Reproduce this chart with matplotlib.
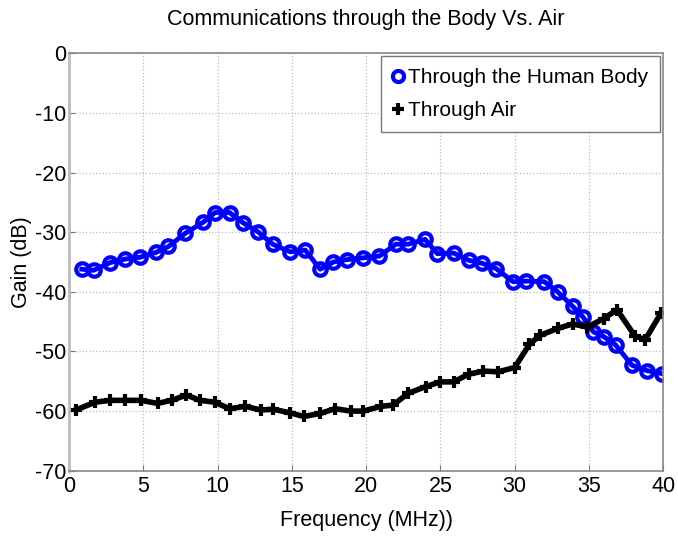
import matplotlib
matplotlib.use("Agg")
import matplotlib.pyplot as plt

plt.rcParams['font.family'] = ['Liberation Sans', 'DejaVu Sans']
plt.rcParams['axes.unicode_minus'] = False

# Ganancia a traves del cuerpo humano
freq_body = [0.85, 1.64, 2.76, 3.77, 4.78, 5.84, 6.69, 7.81, 9.04, 9.83,
             10.8, 11.7, 12.7, 13.7, 14.9, 15.9, 16.9, 17.8, 18.7, 19.8,
             20.9, 22.0, 22.85, 23.97, 24.8, 25.9, 26.9, 27.8, 28.75, 29.9,
             30.8, 32.0, 32.9, 33.9, 34.6, 35.3, 36.0, 36.8, 37.9, 38.9, 39.9]
gain_body = [-36.2, -36.4, -35.1, -34.5, -34.2, -33.4, -32.4, -30.2, -28.3, -26.7,
             -26.7, -28.4, -29.9, -32.0, -33.3, -33.0, -36.2, -35.0, -34.6, -34.3,
             -34.0, -32.0, -32.0, -31.2, -33.6, -33.5, -34.7, -35.2, -36.1, -38.3,
             -38.2, -38.3, -40.0, -42.4, -44.2, -46.7, -47.5, -48.9, -52.3, -53.2, -53.7]

# Ganancia a traves del aire
freq_air = [0.47, 1.75, 2.76, 3.77, 4.83, 5.95, 6.9, 7.9, 8.8, 9.8,
            10.8, 11.85, 12.9, 13.76, 14.9, 15.8, 16.9, 17.9, 19.0, 19.8,
            21.0, 21.8, 22.85, 24.0, 25.0, 25.9, 26.9, 27.9, 28.9, 30.0,
            31.0, 31.7, 32.95, 33.9, 34.9, 36.0, 36.9, 38.1, 38.8, 39.85]
gain_air = [-59.8, -58.5, -58.2, -58.2, -58.2, -58.7, -58.2, -57.3, -58.2, -58.5,
            -59.6, -59.2, -59.8, -59.7, -60.3, -60.9, -60.4, -59.6, -60.0, -60.0,
            -59.2, -59.0, -57.0, -55.9, -55.1, -55.1, -53.8, -53.3, -53.4, -52.7,
            -48.8, -47.3, -46.1, -45.4, -45.9, -44.5, -43.0, -47.4, -48.0, -43.6]

fig = plt.figure(figsize=(6.78, 5.38), dpi=100)
ax = fig.add_axes([0.102, 0.125, 0.876, 0.776])

ax.plot(freq_body, gain_body, color='#0000ff', linewidth=3.5, marker='o',
        markersize=9, markerfacecolor='none', markeredgewidth=3,
        label='Through the Human Body')
ax.plot(freq_air, gain_air, color='black', linewidth=4, marker='+',
        markersize=9, markeredgewidth=3, label='Through Air')

ax.set_xlim(0, 40)
ax.set_ylim(-70, 0)
ax.set_xticks(range(0, 41, 5))
ax.set_yticks(range(-70, 1, 10))
ax.grid(True, linestyle=':', color='#bbbbbb', linewidth=0.9)
ax.tick_params(labelsize=15.5, length=4, pad=2, color='#777777', direction='in')
ax.tick_params(axis='x', pad=4)
for s in ax.spines.values():
    s.set_color('#888888')
    s.set_linewidth(1.2)
ax.spines['left'].set_color('#bbbbbb')
ax.spines['left'].set_linewidth(2)

ax.set_title('Communications through the Body Vs. Air', fontsize=15.5, pad=20)
ax.set_xlabel('Frequency (MHz))', fontsize=15.5, labelpad=9)
ax.set_ylabel('Gain (dB)', fontsize=15.5, labelpad=2)

leg = ax.legend(loc='upper right', fontsize=15, handlelength=0.5, handletextpad=0.25,
                borderaxespad=0.15, borderpad=0.55, labelspacing=0.7, fancybox=False,
                framealpha=1, edgecolor='#777777')
leg.get_frame().set_linewidth(1)
for h in leg.legend_handles:
    h.set_linestyle('none')
    h.set_markersize(8)
    h.set_markeredgewidth(3)

fig.savefig('out.png', dpi=100)
